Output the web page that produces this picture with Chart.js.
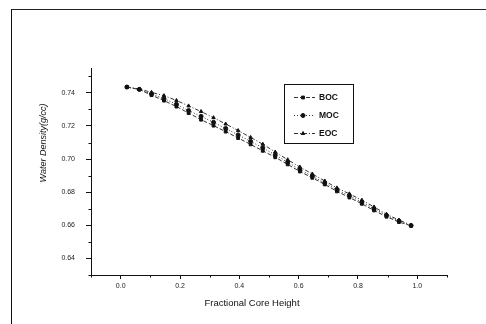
<!DOCTYPE html>
<html lang="en">
<head>
<meta charset="UTF-8" />
<title>Water Density vs Fractional Core Height</title>
<style>
  html, body { margin: 0; padding: 0; background: #fff; }
  .wrap { position: relative; width: 486px; height: 324px; overflow: hidden; }
  .frame {
    position: absolute; left: 11px; top: 9px; width: 490px; height: 330px;
    border-left: 1.5px solid #111; border-top: 1.5px solid #222;
  }
  canvas { position: absolute; left: 0; top: 0; }
</style>
<script src="https://cdn.jsdelivr.net/npm/chart.js"></script>
</head>
<body>
<div class="wrap">
  <div class="frame"></div>
  <canvas id="densityChart" width="486" height="324"></canvas>
</div>

<script>
  // fractional core height of each node (24 axial nodes)
  const heights = [0.021, 0.063, 0.104, 0.146, 0.188, 0.229, 0.271, 0.313, 0.354, 0.396, 0.438, 0.479,
                   0.521, 0.563, 0.604, 0.646, 0.688, 0.729, 0.771, 0.813, 0.854, 0.896, 0.938, 0.979];

  const boc = [0.7435, 0.7420, 0.7386, 0.7353, 0.7317, 0.7278, 0.7238, 0.7202, 0.7166, 0.7127, 0.7089, 0.7050,
               0.7011, 0.6968, 0.6925, 0.6887, 0.6847, 0.6805, 0.6768, 0.6730, 0.6690, 0.6652, 0.6620, 0.6597];
  const moc = [0.7435, 0.7421, 0.7393, 0.7365, 0.7331, 0.7293, 0.7258, 0.7222, 0.7185, 0.7146, 0.7107, 0.7068,
               0.7025, 0.6981, 0.6937, 0.6896, 0.6856, 0.6815, 0.6778, 0.6740, 0.6700, 0.6660, 0.6626, 0.6599];
  const eoc = [0.7435, 0.7423, 0.7403, 0.7383, 0.7354, 0.7321, 0.7287, 0.7250, 0.7212, 0.7172, 0.7131, 0.7090,
               0.7043, 0.6996, 0.6952, 0.6910, 0.6868, 0.6826, 0.6790, 0.6752, 0.6711, 0.6667, 0.6632, 0.6602];

  const xTicks = [0.0, 0.2, 0.4, 0.6, 0.8, 1.0];
  const xMinor = [-0.1, 0.1, 0.3, 0.5, 0.7, 0.9, 1.1];
  const yTicks = [0.64, 0.66, 0.68, 0.70, 0.72, 0.74];
  const yMinor = [0.63, 0.65, 0.67, 0.69, 0.71, 0.73, 0.75];

  const FONT = "'Liberation Sans', Arial, sans-serif";
  const pts = arr => arr.map((v, i) => ({ x: heights[i], y: v }));

  const series = [
    { label: 'BOC', data: pts(boc), pointStyle: 'rect',     borderDash: [4, 2] },
    { label: 'MOC', data: pts(moc), pointStyle: 'circle',   borderDash: [1, 2] },
    { label: 'EOC', data: pts(eoc), pointStyle: 'triangle', borderDash: [4, 2, 1, 2] }
  ];

  // minor ticks, axis titles and the boxed legend inside the plot
  const extras = {
    id: 'extras',
    afterDraw(chart) {
      const ctx = chart.ctx;
      const xs = chart.scales.x, ys = chart.scales.y;
      const area = chart.chartArea;
      ctx.save();
      ctx.strokeStyle = '#111';
      ctx.lineWidth = 1;
      ctx.beginPath();
      xMinor.forEach(v => {
        const px = Math.round(xs.getPixelForValue(v)) + 0.5;
        ctx.moveTo(px, area.bottom); ctx.lineTo(px, area.bottom + 2.5);
      });
      yMinor.forEach(v => {
        const py = Math.round(ys.getPixelForValue(v)) + 0.5;
        ctx.moveTo(area.left, py); ctx.lineTo(area.left - 2.5, py);
      });
      ctx.stroke();

      ctx.fillStyle = '#111';
      ctx.font = '9.5px ' + FONT;
      ctx.textAlign = 'center';
      ctx.textBaseline = 'middle';
      ctx.fillText('Fractional Core Height', 252, 303);

      ctx.save();
      ctx.translate(43, 143);
      ctx.rotate(-Math.PI / 2);
      ctx.font = 'italic 9px ' + FONT;
      ctx.fillText('Water Density(g/cc)', 0, 0);
      ctx.restore();

      // legend box
      const bx = 284, by = 84, bw = 69, bh = 59;
      ctx.strokeStyle = '#111';
      ctx.strokeRect(bx + 0.5, by + 0.5, bw, bh);
      ctx.font = 'bold 8.5px ' + FONT;
      ctx.textAlign = 'left';
      chart.data.datasets.forEach((ds, i) => {
        const ry = by + 13 + i * 18;
        ctx.save();
        ctx.setLineDash(ds.borderDash);
        ctx.strokeStyle = '#333';
        ctx.beginPath();
        ctx.moveTo(bx + 10, ry + 0.5); ctx.lineTo(bx + 31, ry + 0.5);
        ctx.stroke();
        ctx.restore();
        Chart.helpers.drawPoint(ctx, { pointStyle: ds.pointStyle, radius: 2, rotation: 0, borderWidth: 1 }, bx + 19, ry + 0.5);
        ctx.fillStyle = '#111';
        ctx.fillText(ds.label, bx + 35, ry + 0.5);
      });
      ctx.restore();
    }
  };

  new Chart(document.getElementById('densityChart'), {
    type: 'line',
    data: {
      datasets: series.map(s => ({
        label: s.label,
        data: s.data,
        borderColor: '#333',
        borderWidth: 1,
        borderDash: s.borderDash,
        pointStyle: s.pointStyle,
        pointRadius: 2,
        pointBackgroundColor: '#111',
        pointBorderColor: '#111',
        pointBorderWidth: 1,
        tension: 0,
        fill: false
      }))
    },
    options: {
      responsive: false,
      animation: false,
      devicePixelRatio: 1,
      layout: { padding: { top: 68, right: 39, left: 0, bottom: 0 } },
      plugins: { legend: { display: false }, tooltip: { enabled: false } },
      scales: {
        x: {
          type: 'linear', min: -0.1, max: 1.1,
          afterBuildTicks: s => { s.ticks = xTicks.map(v => ({ value: v })); },
          afterFit: s => { s.height = 49; },
          ticks: { autoSkip: false, maxRotation: 0, padding: 3, color: '#222',
                   font: { family: FONT, size: 7 }, callback: v => v.toFixed(1) },
          grid: { drawOnChartArea: false, drawTicks: true, tickLength: 4, color: '#111' },
          border: { color: '#111', width: 1 }
        },
        y: {
          type: 'linear', min: 0.63, max: 0.755,
          afterBuildTicks: s => { s.ticks = yTicks.map(v => ({ value: v })); },
          afterFit: s => { s.width = 91; },
          ticks: { autoSkip: false, padding: 11, color: '#222',
                   font: { family: FONT, size: 7 }, callback: v => v.toFixed(2) },
          grid: { drawOnChartArea: false, drawTicks: true, tickLength: 5, color: '#111' },
          border: { color: '#111', width: 1 }
        }
      }
    },
    plugins: [extras]
  });
</script>
</body>
</html>
